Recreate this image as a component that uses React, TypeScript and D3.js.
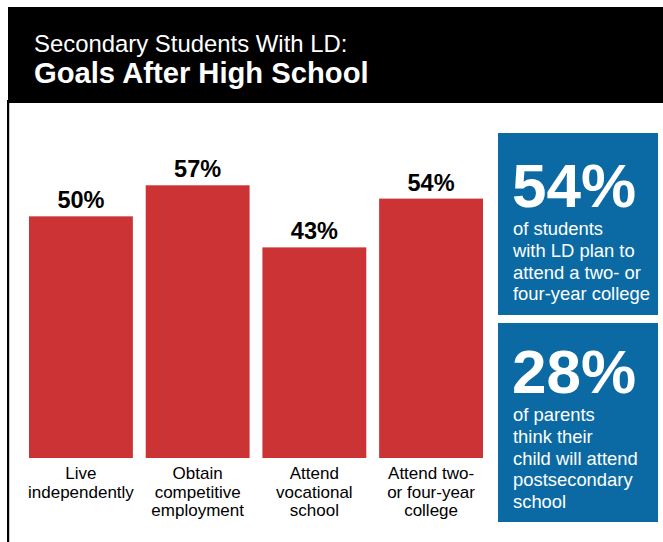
import React from "react";
import * as d3 from "d3";

const titleLine1 = "Secondary Students With LD:";
const titleLine2 = "Goals After High School";

const categories = ["Live independently", "Obtain competitive employment", "Attend vocational school", "Attend two- or four-year college"];
const categoryLines = [
  ["Live", "independently"],
  ["Obtain", "competitive", "employment"],
  ["Attend", "vocational", "school"],
  ["Attend two-", "or four-year", "college"],
];
const values = [50, 57, 43, 54];

const calloutNumbers = ["54%", "28%"];
const calloutLines = [
  ["of students", "with LD plan to", "attend a two- or", "four-year college"],
  ["of parents", "think their", "child will attend", "postsecondary", "school"],
];

const W = 663;
const H = 542;
const FONT = "'Liberation Sans', Arial, Helvetica, sans-serif";
const RED = "#cc3335";
const BLUE = "#0b6aa3";

export default function App() {
  const x = d3.scaleBand<string>().domain(categories).range([29, 483]).paddingInner(0.11).paddingOuter(0);
  const y = d3.scaleLinear().domain([-4.5, 60]).range([458, 172]);
  const base = y(-4.5);

  const boxes = [
    { top: 133, bottom: 315, numBase: 207, textBase: 235 },
    { top: 323, bottom: 522, numBase: 393, textBase: 421 },
  ];

  return (
    <div style={{ position: "absolute", left: 0, top: 0, width: W, height: H }}>
      <svg width={W} height={H} style={{ display: "block" }}>
        <rect x={0} y={0} width={W} height={H} fill="#fff" />
        <rect x={8} y={7} width={W - 8} height={96} fill="#000" />
        <rect x={7} y={100} width={2.2} height={H - 100} fill="#000" />
        <text x={34} y={52} fill="#fff" fontFamily={FONT} fontSize={23.9}>{titleLine1}</text>
        <text x={34} y={83} fill="#fff" fontFamily={FONT} fontSize={29.2} fontWeight="bold">{titleLine2}</text>

        {categories.map((c, i) => {
          const bx = x(c) as number;
          const bw = x.bandwidth();
          const cx = bx + bw / 2;
          return (
            <g key={c}>
              <rect x={bx} y={y(values[i])} width={bw} height={base - y(values[i])} fill={RED} />
              <text x={cx} y={y(values[i]) - 8} textAnchor="middle" fontFamily={FONT} fontWeight="bold" fontSize={23.5} fill="#000">
                {values[i]}%
              </text>
              {categoryLines[i].map((ln, j) => (
                <text key={j} x={cx} y={479 + j * 18.5} textAnchor="middle" fontFamily={FONT} fontSize={17} fill="#000">
                  {ln}
                </text>
              ))}
            </g>
          );
        })}

        {boxes.map((b, i) => (
          <g key={i}>
            <rect x={498} y={b.top} width={160} height={b.bottom - b.top} fill={BLUE} />
            <text x={512} y={b.numBase} fill="#fff" fontFamily={FONT} fontWeight="bold" fontSize={62}>
              {calloutNumbers[i]}
            </text>
            {calloutLines[i].map((ln, j) => (
              <text key={j} x={513} y={b.textBase + j * 21.8} fill="#fff" fontFamily={FONT} fontSize={18.4}>
                {ln}
              </text>
            ))}
          </g>
        ))}
      </svg>
    </div>
  );
}
